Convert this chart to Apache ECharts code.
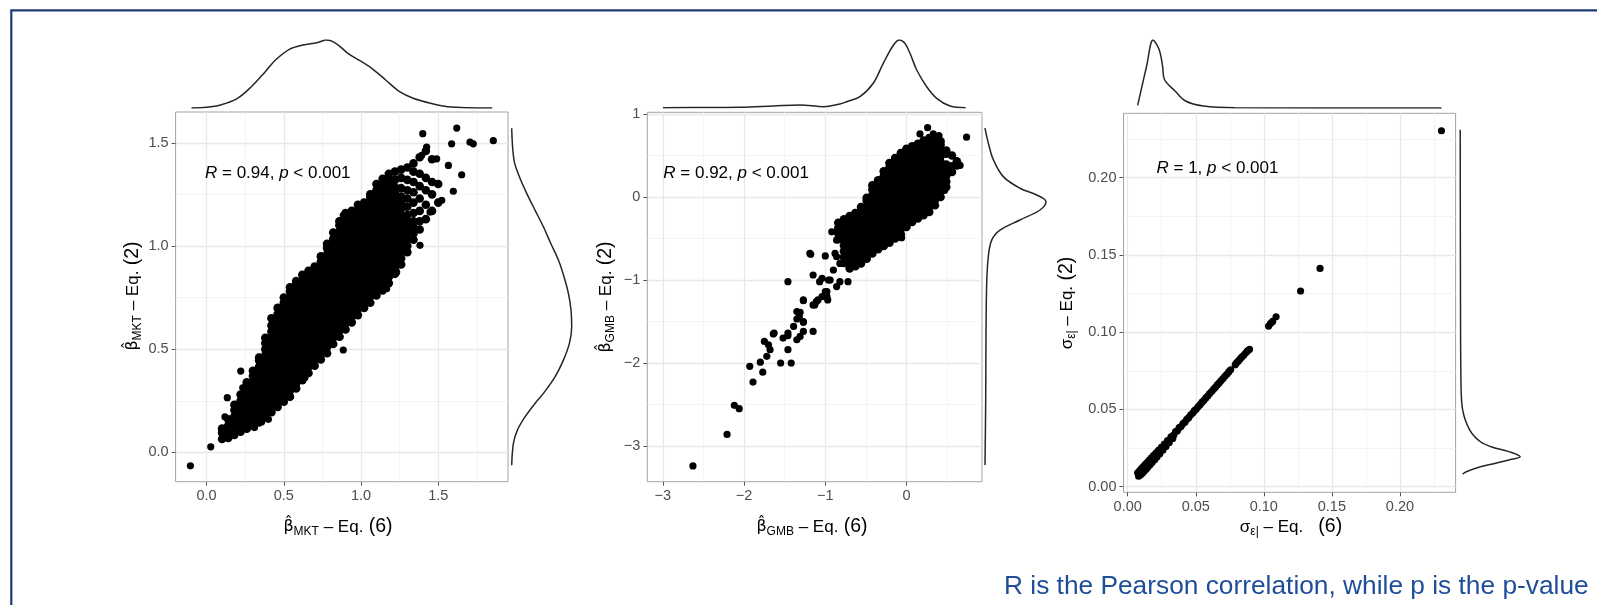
<!DOCTYPE html>
<html><head><meta charset="utf-8">
<script src="https://cdn.jsdelivr.net/npm/echarts@6/dist/echarts.min.js"></script>
<style>html,body{margin:0;padding:0;background:#fff}#c{width:1597px;height:605px}</style>
</head><body><div id="c"></div>
<script>
// ---------------- DATA ----------------
// Panel 1: beta_MKT  (dense core given as x-slices of y values, plus sparse points)
const mktSlices = [
 [0.10,[0.065,0.095,0.115]],
 [0.14,[0.07,0.10,0.13,0.16]],
 [0.18,[0.085,0.115,0.145,0.175,0.205,0.23]],
 [0.22,[0.10,0.13,0.16,0.19,0.22,0.25,0.28]],
 [0.26,[0.115,0.145,0.175,0.205,0.235,0.265,0.295,0.325,0.34]],
 [0.30,[0.13,0.16,0.19,0.22,0.25,0.28,0.31,0.34,0.37,0.395]],
 [0.34,[0.145,0.175,0.205,0.235,0.265,0.295,0.325,0.355,0.385,0.415,0.445,0.46]],
 [0.38,[0.17,0.20,0.23,0.26,0.29,0.32,0.35,0.38,0.41,0.44,0.47,0.50,0.53,0.555]],
 [0.42,[0.195,0.225,0.255,0.285,0.315,0.345,0.375,0.405,0.435,0.465,0.495,0.525,0.555,0.585,0.615,0.65]],
 [0.46,[0.22,0.25,0.28,0.31,0.34,0.37,0.40,0.43,0.46,0.49,0.52,0.55,0.58,0.61,0.64,0.67,0.70]],
 [0.50,[0.245,0.275,0.305,0.335,0.365,0.395,0.425,0.455,0.485,0.515,0.545,0.575,0.605,0.635,0.665,0.695,0.725,0.75]],
 [0.54,[0.27,0.30,0.33,0.36,0.39,0.42,0.45,0.48,0.51,0.54,0.57,0.60,0.63,0.66,0.69,0.72,0.75,0.78,0.80]],
 [0.58,[0.31,0.335,0.365,0.395,0.425,0.455,0.485,0.515,0.545,0.575,0.605,0.635,0.665,0.695,0.725,0.755,0.785,0.815,0.83]],
 [0.62,[0.35,0.38,0.41,0.44,0.47,0.50,0.53,0.56,0.59,0.62,0.65,0.68,0.71,0.74,0.77,0.80,0.83,0.86]],
 [0.66,[0.385,0.415,0.445,0.475,0.505,0.535,0.565,0.595,0.625,0.655,0.685,0.715,0.745,0.775,0.805,0.835,0.865,0.88]],
 [0.70,[0.42,0.45,0.48,0.51,0.54,0.57,0.60,0.63,0.66,0.69,0.72,0.75,0.78,0.81,0.84,0.87,0.90]],
 [0.74,[0.45,0.475,0.505,0.535,0.565,0.595,0.625,0.655,0.685,0.715,0.745,0.775,0.805,0.835,0.865,0.895,0.925,0.95]],
 [0.78,[0.48,0.51,0.54,0.57,0.60,0.63,0.66,0.69,0.72,0.75,0.78,0.81,0.84,0.87,0.90,0.93,0.96,0.99,1.01]],
 [0.82,[0.525,0.555,0.585,0.615,0.645,0.675,0.705,0.735,0.765,0.795,0.825,0.855,0.885,0.915,0.945,0.975,1.005,1.035,1.065]],
 [0.86,[0.56,0.59,0.62,0.65,0.68,0.71,0.74,0.77,0.80,0.83,0.86,0.89,0.92,0.95,0.98,1.01,1.04,1.07,1.10,1.12]],
 [0.90,[0.595,0.625,0.655,0.685,0.715,0.745,0.775,0.805,0.835,0.865,0.895,0.925,0.955,0.985,1.015,1.045,1.075,1.105,1.135,1.16]],
 [0.94,[0.63,0.66,0.69,0.72,0.75,0.78,0.81,0.84,0.87,0.90,0.93,0.96,0.99,1.02,1.05,1.08,1.11,1.14,1.17]],
 [0.98,[0.665,0.695,0.725,0.755,0.785,0.815,0.845,0.875,0.905,0.935,0.965,0.995,1.025,1.055,1.085,1.115,1.145,1.175,1.20]],
 [1.02,[0.70,0.73,0.76,0.79,0.82,0.85,0.88,0.91,0.94,0.97,1.00,1.03,1.06,1.09,1.12,1.15,1.18,1.21]],
 [1.06,[0.725,0.755,0.785,0.815,0.845,0.875,0.905,0.935,0.965,0.995,1.025,1.055,1.085,1.115,1.145,1.175,1.205,1.235,1.25]],
 [1.10,[0.76,0.79,0.82,0.85,0.88,0.91,0.94,0.97,1.00,1.03,1.06,1.09,1.12,1.15,1.18,1.21,1.24,1.27,1.30]],
 [1.14,[0.785,0.815,0.845,0.875,0.905,0.935,0.965,0.995,1.025,1.055,1.085,1.115,1.145,1.175,1.205,1.235,1.265,1.295,1.325]],
 [1.18,[0.82,0.85,0.88,0.91,0.94,0.97,1.00,1.03,1.06,1.09,1.12,1.15,1.18,1.21,1.24,1.27,1.30,1.33,1.35]],
 [1.22,[0.865,0.895,0.925,0.955,0.985,1.015,1.045,1.075,1.105,1.135,1.165,1.195,1.225,1.255,1.285,1.32,1.36]],
 [1.26,[0.91,0.94,0.97,1.00,1.03,1.06,1.09,1.12,1.15,1.18,1.21,1.24,1.28,1.33,1.37]],
 [1.30,[0.97,1.00,1.03,1.06,1.09,1.12,1.15,1.19,1.23,1.27,1.32,1.38]],
 [1.34,[1.03,1.06,1.09,1.12,1.16,1.21,1.26,1.31,1.36,1.40]],
 [1.38,[1.08,1.12,1.17,1.23,1.29,1.35,1.43]],
 [1.42,[1.13,1.20,1.27,1.33,1.46]],
 [1.46,[1.17,1.25,1.31,1.42]],
 [1.50,[1.21,1.30]]
];
const mktSparse = [[-0.105,-0.065],[0.027,0.027],[0.119,0.172],[0.134,0.265],[0.221,0.394],[0.234,0.313],[0.31,0.12],[0.357,0.148],[0.40,0.16],[0.54,0.27],[0.637,0.363],[0.864,0.56],[0.885,0.496],[0.972,0.673],[1.166,0.793],[1.231,0.874],[1.382,1.003],[1.447,1.164],[1.523,1.221],[1.598,1.265],[1.652,1.345],[1.566,1.39],[1.49,1.422],[1.393,1.439],[1.425,1.479],[1.40,1.544],[1.587,1.495],[1.62,1.571],[1.706,1.503],[1.727,1.495],[1.857,1.51],[0.885,1.148],[0.972,1.168]];
const mktTopX = [-0.098,0.0,0.089,0.20,0.29,0.38,0.446,0.536,0.624,0.714,0.777,0.837,0.915,1.004,1.07,1.16,1.25,1.338,1.45,1.56,1.85];
const mktTopD = [0,0.014,0.06,0.194,0.426,0.726,0.96,1.174,1.26,1.306,1.36,1.294,1.094,0.926,0.794,0.56,0.326,0.194,0.094,0.026,0];
const mktRightY = [1.570,1.416,1.335,1.255,1.174,1.093,1.013,0.932,0.851,0.770,0.690,0.609,0.528,0.447,0.366,0.286,0.237,0.172,0.108,0.044,-0.062];
const mktRightD = [0,0.046,0.154,0.3,0.466,0.634,0.78,0.934,1.046,1.134,1.186,1.2,1.154,1.034,0.866,0.634,0.466,0.266,0.114,0.034,0];
const mktXTicks = [0,0.5,1,1.5], mktXMinor = [0.25,0.75,1.25,1.75];
const mktYTicks = [0,0.5,1,1.5], mktYMinor = [0.25,0.75,1.25];

// Panel 2: beta_GMB
const gmbSlices = [
 [-0.84,[-0.51,-0.44,-0.37,-0.31]],
 [-0.77,[-0.795,-0.725,-0.655,-0.585,-0.515,-0.445,-0.375,-0.305,-0.27]],
 [-0.70,[-0.86,-0.79,-0.72,-0.65,-0.58,-0.51,-0.44,-0.37,-0.30,-0.23]],
 [-0.63,[-0.835,-0.765,-0.695,-0.625,-0.555,-0.485,-0.415,-0.345,-0.275,-0.195]],
 [-0.56,[-0.80,-0.73,-0.66,-0.59,-0.52,-0.45,-0.38,-0.31,-0.24,-0.17,-0.12]],
 [-0.49,[-0.745,-0.675,-0.605,-0.535,-0.465,-0.395,-0.325,-0.255,-0.185,-0.115,-0.045,-0.01]],
 [-0.42,[-0.68,-0.61,-0.54,-0.47,-0.40,-0.33,-0.26,-0.19,-0.12,-0.05,0.02,0.09,0.14]],
 [-0.35,[-0.63,-0.565,-0.495,-0.425,-0.355,-0.285,-0.215,-0.145,-0.075,-0.005,0.065,0.135,0.20]],
 [-0.28,[-0.59,-0.52,-0.45,-0.38,-0.31,-0.24,-0.17,-0.10,-0.03,0.04,0.11,0.18,0.25,0.31]],
 [-0.21,[-0.55,-0.485,-0.415,-0.345,-0.275,-0.205,-0.135,-0.065,0.005,0.075,0.145,0.215,0.285,0.355,0.41]],
 [-0.14,[-0.50,-0.43,-0.36,-0.29,-0.22,-0.15,-0.08,-0.01,0.06,0.13,0.20,0.27,0.34,0.41,0.47]],
 [-0.07,[-0.45,-0.385,-0.315,-0.245,-0.175,-0.105,-0.035,0.035,0.105,0.175,0.245,0.315,0.385,0.455,0.53]],
 [0.00,[-0.36,-0.29,-0.22,-0.15,-0.08,-0.01,0.06,0.13,0.20,0.27,0.34,0.41,0.48,0.55,0.58]],
 [0.07,[-0.30,-0.235,-0.165,-0.095,-0.025,0.045,0.115,0.185,0.255,0.325,0.395,0.465,0.535,0.61]],
 [0.14,[-0.26,-0.19,-0.12,-0.05,0.02,0.09,0.16,0.23,0.30,0.37,0.44,0.51,0.58,0.64]],
 [0.21,[-0.22,-0.155,-0.085,-0.015,0.055,0.125,0.195,0.265,0.335,0.405,0.475,0.545,0.615,0.68]],
 [0.28,[-0.18,-0.11,-0.04,0.03,0.10,0.17,0.24,0.31,0.38,0.45,0.52,0.59,0.66,0.71]],
 [0.35,[-0.10,-0.035,0.035,0.105,0.175,0.245,0.315,0.385,0.455,0.525,0.595,0.665,0.72]],
 [0.42,[0.0,0.07,0.14,0.21,0.28,0.35,0.42,0.49,0.56,0.63,0.67]],
 [0.49,[0.12,0.185,0.255,0.325,0.39,0.52,0.56]],
 [0.56,[0.30,0.37,0.50]],
 [0.62,[0.38,0.43]]
];
const gmbSparse = [[0.74,0.72],[0.26,0.835],[0.166,0.76],[0.33,0.76],[0.40,0.74],[0.66,0.38],[0.47,0.08],[-0.06,-0.49],
 [-0.82,-0.31],[-0.92,-0.42],[-0.86,-0.52],[-1.19,-0.68],[-1.0,-0.71],[-0.88,-0.68],[-0.82,-0.80],[-1.15,-0.94],[-1.07,-1.02],[-0.96,-1.0],
 [-1.46,-1.02],[-0.98,-1.14],[-1.27,-1.24],[-1.13,-1.30],[-1.09,-1.24],[-1.31,-1.39],[-1.35,-1.47],[-1.27,-1.51],[-1.15,-1.62],[-1.64,-1.65],[-1.46,-1.67],
 [-2.63,-3.24],[-2.21,-2.86],[-2.12,-2.51],[-2.06,-2.55],[-1.89,-2.23],[-1.93,-2.04],[-1.77,-2.11],[-1.80,-1.99],[-1.72,-1.92],[-1.68,-1.84],[-1.75,-1.74],[-1.70,-1.78],
 [-1.55,-2.0],[-1.42,-2.0],[-1.63,-1.64],[-1.52,-1.70],[-1.46,-1.64],[-1.46,-1.84],[-1.35,-1.72],[-1.31,-1.68],[-1.39,-1.56],[-1.27,-1.62],[-1.27,-1.50],[-1.32,-1.44],[-1.35,-1.38],
 [-1.27,-1.25],[-1.15,-1.30],[-1.11,-1.26],[-1.04,-1.20],[-0.98,-1.20],[-1.18,-0.69],[-1.04,-0.98],[-0.94,-1.0],[-0.86,-1.08],[-0.82,-1.02],[-0.72,-1.02],[-0.90,-0.88],
 [-0.74,-0.76],[-0.86,-0.72],[-0.66,-0.68],[-1.0,-1.14],[-0.97,-1.24]];
const gmbTopX = [-3.0,-2.4,-2.05,-1.64,-1.31,-1.02,-0.82,-0.736,-0.573,-0.409,-0.286,-0.16,-0.089,-0.02,0.043,0.126,0.249,0.372,0.536,0.729];
const gmbTopD = [0.009,0.015,0.021,0.06,0.09,0.039,0.12,0.189,0.339,0.741,1.341,1.89,2.04,1.941,1.641,1.14,0.639,0.291,0.06,0.009];
const gmbRightY = [0.83,0.65,0.45,0.245,0.105,0.024,-0.057,-0.157,-0.277,-0.40,-0.52,-0.72,-1.04,-1.64,-2.45,-3.23];
const gmbRightD = [0,0.099,0.249,0.549,1.05,1.551,1.83,1.65,1.05,0.45,0.201,0.099,0.051,0.03,0.021,0];
const gmbXTicks = [-3,-2,-1,0], gmbXMinor = [-2.5,-1.5,-0.5,0.5];
const gmbYTicks = [-3,-2,-1,0,1], gmbYMinor = [-2.5,-1.5,-0.5,0.5];

// Panel 3: sigma_eps
const sigPts = [[0.0073,0.0090],[0.0080,0.0068],[0.0088,0.0104],[0.0094,0.0078],[0.0101,0.0118],[0.0108,0.0088],[0.0115,0.0131],[0.0121,0.0100],[0.0128,0.0144],[0.0135,0.0113],
 [0.0142,0.0157],[0.0149,0.0127],[0.0157,0.0171],[0.0164,0.0142],[0.0172,0.0186],[0.0180,0.0158],[0.0189,0.0201],[0.0198,0.0175],[0.0207,0.0218],[0.0216,0.0194],
 [0.0226,0.0236],[0.0236,0.0214],[0.0247,0.0255],[0.0258,0.0236],[0.0269,0.0276],[0.0281,0.0260],[0.0293,0.0299],[0.0305,0.0286],[0.0318,0.0323],[0.0331,0.0313],
 [0.0339,0.0336],[0.0352,0.0357],[0.0365,0.0362],[0.0378,0.0382],[0.0392,0.0390],[0.0406,0.0409],[0.0420,0.0418],[0.0434,0.0436],[0.0448,0.0447],[0.0462,0.0464],
 [0.0476,0.0475],[0.0490,0.0492],[0.0504,0.0503],[0.0518,0.0519],[0.0532,0.0531],[0.0546,0.0547],[0.0560,0.0559],[0.0574,0.0575],[0.0588,0.0587],[0.0602,0.0603],
 [0.0616,0.0616],[0.0630,0.0631],[0.0644,0.0644],[0.0658,0.0659],[0.0672,0.0672],[0.0686,0.0687],[0.0700,0.0700],[0.0714,0.0715],[0.0728,0.0728],[0.0742,0.0743],
 [0.0756,0.0757],[0.0790,0.0790],[0.0800,0.0802],[0.0812,0.0813],[0.0825,0.0826],[0.0838,0.0839],[0.0852,0.0851],[0.0866,0.0865],[0.0880,0.0879],[0.0895,0.0890],
 [0.1035,0.1040],[0.1050,0.1058],[0.1065,0.1070],[0.1090,0.1100],[0.1270,0.1267],[0.1413,0.1413],[0.2305,0.2304]];
const sigTopX = [0.0073,0.0139,0.0186,0.023,0.0256,0.0269,0.0348,0.0425,0.0556,0.079,0.2305];
const sigTopD = [1.35,21,34,29.35,21,14.35,8.5,3.5,1,0.15,0];
const sigRightY = [0.231,0.12,0.0669,0.0496,0.0367,0.0291,0.0259,0.0227,0.0194,0.0173,0.0151,0.0129,0.0097,0.0082];
const sigRightD = [0,0.15,0.4,1.25,4.8,10.15,15.5,24.35,30.05,24.35,17.25,10.15,3.05,1.25];
const sigXTicks = [0,0.05,0.10,0.15,0.20], sigXMinor = [0.025,0.075,0.125,0.175,0.225];
const sigYTicks = [0,0.05,0.10,0.15,0.20], sigYMinor = [0.025,0.075,0.125,0.175,0.225];

const corrTexts = ['0.94','0.92','1'];
const caption = 'R is the Pearson correlation, while p is the p-value';

// ---------------- BUILD ----------------
const FONT = "'Liberation Sans', Arial, Helvetica, sans-serif";
function fromSlices(sl){const o=[];sl.forEach(s=>s[1].forEach(y=>o.push([s[0],y])));return o;}
function zip(a,b){return a.map((v,i)=>[v,b[i]]);}
const minus = v => v<0 ? '\u2212'+(-v) : String(v);

const panels = [
 {box:[175.6,112,332.4,369.7], xr:[-0.2008,1.952], yr:[-0.142,1.649], xt:mktXTicks, xm:mktXMinor, yt:mktYTicks, ym:mktYMinor,
  fmt:v=>v.toFixed(1), core:fromSlices(mktSlices), sparse:mktSparse, top:zip(mktTopX,mktTopD), topMax:1.36,
  right:zip(mktRightD,mktRightY), rightMax:1.2, rightLeft:511.7, rightW:60},
 {box:[647.3,112.3,334.7,369.4], xr:[-3.192,0.930], yr:[-3.430,1.020], xt:gmbXTicks, xm:gmbXMinor, yt:gmbYTicks, ym:gmbYMinor,
  fmt:minus, core:fromSlices(gmbSlices), sparse:gmbSparse, top:zip(gmbTopX,gmbTopD), topMax:2.04,
  right:zip(gmbRightD,gmbRightY), rightMax:1.83, rightLeft:985, rightW:61},
 {box:[1123.5,113.3,332.1,379], xr:[-0.0031,0.2409], yr:[-0.0036,0.2417], xt:sigXTicks, xm:sigXMinor, yt:sigYTicks, ym:sigYMinor,
  fmt:v=>v.toFixed(2), core:[], sparse:sigPts, top:zip(sigTopX,sigTopD), topMax:34,
  right:zip(sigRightD,sigRightY), rightMax:30.05, rightLeft:1460.2, rightW:60}
];

const grids=[], xAxes=[], yAxes=[], series=[];
function mainAxis(g, r, ticks, fmt, pos){
  return {type:'value', gridIndex:g, min:r[0], max:r[1], position:pos,
    axisLine:{show:false, onZero:false},
    axisTick:{show:true, length:4, customValues:ticks, lineStyle:{color:'#555', width:1}},
    axisLabel:{show:true, customValues:ticks, formatter:fmt, fontSize:14.5, color:'#4d4d4d', fontFamily:FONT, margin:7},
    splitLine:{show:true, lineStyle:{color:'#e8e8e8', width:1.3}}};
}
function minorAxis(g, r, ticks, pos){
  return {type:'value', gridIndex:g, min:r[0], max:r[1], position:pos,
    axisLine:{show:false, onZero:false}, axisTick:{show:false, customValues:ticks}, axisLabel:{show:false, customValues:ticks},
    splitLine:{show:true, lineStyle:{color:'#f1f1f1', width:0.8}}};
}
function hidden(g, r){return {type:'value', gridIndex:g, min:r[0], max:r[1], show:false, axisLine:{onZero:false}, splitLine:{show:false}};}
const lineBase = {type:'line', showSymbol:false, symbol:'none', smooth:0.35, silent:true, lineStyle:{color:'#262626', width:1.5}, z:3};

panels.forEach(p=>{
  const g = grids.length;
  grids.push({left:p.box[0], top:p.box[1], width:p.box[2], height:p.box[3], show:true, backgroundColor:'#fff', borderColor:'#a3a3a3', borderWidth:1});
  const xi = xAxes.length; xAxes.push(mainAxis(g,p.xr,p.xt,p.fmt,'bottom')); xAxes.push(minorAxis(g,p.xr,p.xm,'top'));
  const yi = yAxes.length; yAxes.push(mainAxis(g,p.yr,p.yt,p.fmt,'left')); yAxes.push(minorAxis(g,p.yr,p.ym,'right'));
  series.push({type:'scatter', xAxisIndex:xi, yAxisIndex:yi, data:p.core, symbolSize:8.6, itemStyle:{color:'#000', opacity:1}, silent:true, z:4});
  series.push({type:'scatter', xAxisIndex:xi, yAxisIndex:yi, data:p.sparse, symbolSize:7.2, itemStyle:{color:'#000', opacity:1}, silent:true, z:4});
  const gt = grids.length;
  grids.push({left:p.box[0], top:40, width:p.box[2], height:68, show:false});
  xAxes.push(hidden(gt,p.xr)); yAxes.push(hidden(gt,[0,p.topMax]));
  series.push(Object.assign({}, lineBase, {xAxisIndex:xAxes.length-1, yAxisIndex:yAxes.length-1, data:p.top}));
  const gr = grids.length;
  grids.push({left:p.rightLeft, top:p.box[1], width:p.rightW, height:p.box[3], show:false});
  xAxes.push(hidden(gr,[0,p.rightMax])); yAxes.push(hidden(gr,p.yr));
  series.push(Object.assign({}, lineBase, {xAxisIndex:xAxes.length-1, yAxisIndex:yAxes.length-1, data:p.right}));
});

const titleRich = {
  b:{fontSize:16, fontFamily:"'DejaVu Sans', sans-serif", color:'#333', lineHeight:22},
  g:{fontSize:17, fontFamily:FONT, color:'#333', lineHeight:22},
  s:{fontSize:12, fontFamily:FONT, color:'#333', lineHeight:12, verticalAlign:'bottom'},
  t:{fontSize:17, fontFamily:FONT, color:'#333', lineHeight:22},
  n:{fontSize:19.5, fontFamily:FONT, color:'#3a3a3a', lineHeight:22}
};
function axTitle(tok, sym, sub, eq, x, y, rot, gap){
  return {type:'text', x:x, y:y, rotation:rot||0, z:10,
    style:{text:'{'+tok+'|'+sym+'}{s|'+sub+'}{t| \u2013 Eq.}{n|'+(gap?'\u2002':'')+' ('+eq+')}', rich:titleRich, align:'center', verticalAlign:'middle'}};
}
const corrRich = {i:{fontStyle:'italic', fontSize:17, fontFamily:FONT, color:'#1a1a1a'}, r:{fontSize:17, fontFamily:FONT, color:'#1a1a1a'}};
function corr(txt, x, y){
  return {type:'text', x:x, y:y, z:10, style:{text:'{i|R}{r| = '+txt+', }{i|p}{r| < 0.001}', rich:corrRich, align:'left', verticalAlign:'middle'}};
}
const graphics = [
  {type:'rect', shape:{x:11.3, y:10.3, width:1610, height:620}, style:{fill:null, stroke:'#1f3b75', lineWidth:2.2}, z:20, silent:true},
  corr(corrTexts[0], 205, 173), corr(corrTexts[1], 663.3, 173.3), corr(corrTexts[2], 1156.5, 168.3),
  axTitle('b','\u03b2\u0302','MKT','6', 338, 527), axTitle('b','\u03b2\u0302','GMB','6', 812, 527), axTitle('g','\u03c3','\u03b5|','6', 1291, 527, 0, true),
  axTitle('b','\u03b2\u0302','MKT','2', 133, 296, Math.PI/2), axTitle('b','\u03b2\u0302','GMB','2', 606, 297, Math.PI/2), axTitle('g','\u03c3','\u03b5|','2', 1067, 303, Math.PI/2, false),
  {type:'text', x:1004, y:587, z:10, style:{text:caption, font:'26.3px '+FONT, fill:'#1f4e99', align:'left', verticalAlign:'middle'}}
];

const chart = echarts.init(document.getElementById('c'), null, {renderer:'canvas'});
chart.setOption({animation:false, backgroundColor:'#fff', grid:grids, xAxis:xAxes, yAxis:yAxes, series:series, graphic:graphics});
</script></body></html>
